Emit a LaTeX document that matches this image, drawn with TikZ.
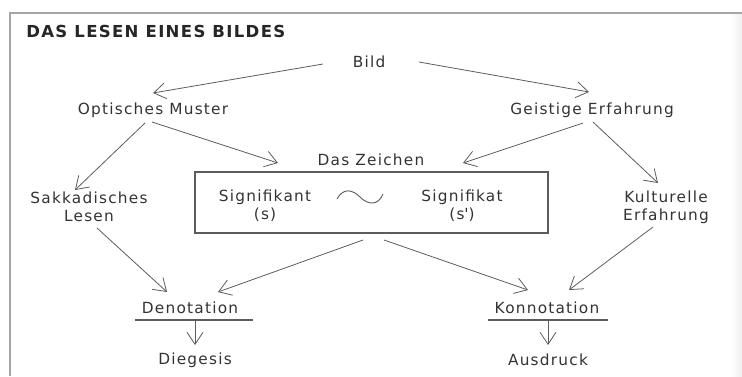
\documentclass[tikz,border=0pt]{standalone}
\usepackage{fontspec}
\setmainfont{DejaVu Sans}[LetterSpace=8]
\usetikzlibrary{arrows.meta}
\definecolor{ink}{gray}{0.2}
\definecolor{linie}{gray}{0.36}
\definecolor{rahmen}{gray}{0.65}
\tikzset{
  txt/.style={text=ink, font=\fontsize{11.5}{13.5}\selectfont, align=center, inner sep=1pt},
  pfeil/.style={draw=linie, line width=0.6pt, -{Straight Barb[length=9pt,width=12pt]}},
  strich/.style={draw=linie, line width=0.8pt},
}
\begin{document}
\begin{tikzpicture}[x=0.75pt,y=-0.75pt]
  \useasboundingbox (0,0) rectangle (742,376);
  % Rahmen
  \fill[left color=white, right color=gray!12] (730,14) rectangle (742,376);
  \draw[rahmen, line width=1.5pt] (10,376) -- (10,13) -- (742,13);
  % Titel
  \node[anchor=west, text=black!85, inner sep=0pt,
        font=\bfseries\fontsize{12.4}{14}\selectfont] (titel) at (26,31) {DAS LESEN EINES BILDES};

  % Begriffe
  \node[txt] (bild)    at (369,62)  {Bild};
  \node[txt] (optisch) at (153,110) {Optisches Muster};
  \node[txt] (geistig) at (592,110) {Geistige Erfahrung};
  \node[txt] (zeichen) at (371,160) {Das Zeichen};
  \node[txt] (sakk)    at (89,207)  {Sakkadisches\\Lesen};
  \node[txt] (kult)    at (666,207) {Kulturelle\\Erfahrung};

  % Das Zeichen
  \node[strich, minimum width=264.75pt, minimum height=45.75pt] (box) at (371.5,202.5) {};
  \node[txt] (sfkant) at (265,206) {Signifikant\\(s)};
  \node[txt] (sfkat)  at (462,206) {Signifikat\\(s\textquotesingle)};
  \draw[linie, line width=0.7pt] (337,199) .. controls (343,188) and (352,189) .. (360,197)
    .. controls (368,205) and (378,206) .. (383,194);

  % unten
  \node[txt] (denot)    at (190,308) {Denotation};
  \node[txt] (konnot)   at (547,308) {Konnotation};
  \node[txt] (diegesis) at (195,360) {Diegesis};
  \node[txt] (ausdruck) at (548,360) {Ausdruck};
  \coordinate (dstrich) at (195,320);
  \coordinate (kstrich) at (548,320);
  \draw[strich] ([shift={(-60,0)}]dstrich) -- ([shift={(58,0)}]dstrich);
  \draw[strich] ([shift={(-60,0)}]kstrich) -- ([shift={(60,0)}]kstrich);

  % Pfeile
  \foreach \a/\sa/\b/\sb in {bild/{-46,2}/optisch/{0,-17},
                             bild/{50,0}/geistig/{-3,-18},
                             optisch/{-8,13}/sakk/{-14,-17},
                             optisch/{-1,12}/zeichen/{-93,3},
                             geistig/{-9,13}/zeichen/{92,3},
                             geistig/{1,12}/kult/{-8,-24},
                             sakk/{8,21}/denot/{-23,-16},
                             box/{-8.5,37.5}/denot/{28,-16},
                             box/{12.5,37.5}/konnot/{-19,-18},
                             kult/{-13,20}/konnot/{22,-18},
                             dstrich/{0,0}/diegesis/{0,-15},
                             kstrich/{0,0}/ausdruck/{0,-15}} {
    \draw[pfeil] ([shift={(\sa)}]\a.center) -- ([shift={(\sb)}]\b.center);
  }
\end{tikzpicture}
\end{document}
